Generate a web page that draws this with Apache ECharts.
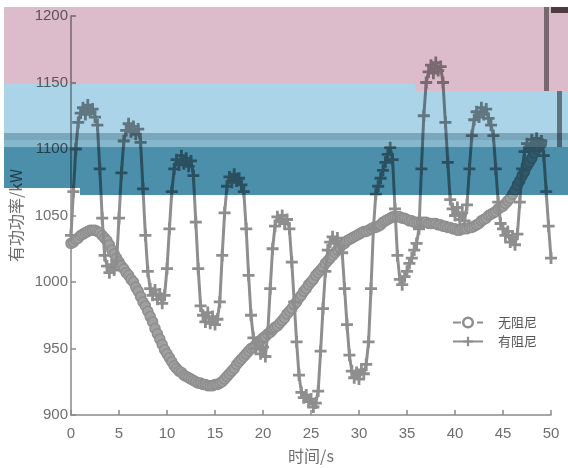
<!DOCTYPE html>
<html>
<head>
<meta charset="utf-8">
<script src="https://cdn.jsdelivr.net/npm/echarts@6/dist/echarts.min.js"></script>
<style>
  html, body { margin: 0; padding: 0; background: #ffffff; }
  #chart { width: 568px; height: 468px; }
</style>
</head>
<body>
<div id="chart"></div>
<script>
// Active power response (kW) sampled every 0.25 s
const sampleStep = 0.25;

// 无阻尼 : t = 0 ... 49 s
const undampedPower = [
  1029, 1030, 1032, 1033, 1035, 1036, 1037, 1038,
  1039, 1039, 1039, 1038, 1037, 1035, 1033, 1031,
  1028, 1024, 1021, 1018, 1015, 1012, 1010, 1007,
  1005, 1002, 1000, 996, 993, 989, 985, 982,
  978, 974, 970, 965, 961, 957, 953, 949,
  946, 943, 940, 937, 935, 933, 932, 930,
  929, 928, 927, 926, 925, 924, 924, 923,
  923, 922, 922, 922, 923, 923, 924, 925,
  927, 929, 931, 933, 935, 938, 940, 942,
  944, 946, 948, 950, 951, 953, 955, 956,
  958, 959, 961, 962, 964, 966, 967, 969,
  971, 973, 976, 978, 980, 983, 985, 988,
  990, 993, 995, 998, 1000, 1002, 1005, 1007,
  1009, 1011, 1014, 1016, 1018, 1020, 1022, 1024,
  1026, 1028, 1029, 1031, 1032, 1033, 1034, 1035,
  1036, 1037, 1038, 1038, 1039, 1040, 1041, 1041,
  1042, 1043, 1045, 1046, 1047, 1048, 1049, 1049,
  1049, 1049, 1048, 1048, 1047, 1046, 1046, 1045,
  1045, 1045, 1045, 1045, 1045, 1044, 1044, 1044,
  1044, 1043, 1043, 1042, 1042, 1041, 1041, 1040,
  1040, 1039, 1039, 1040, 1040, 1040, 1041, 1041,
  1042, 1043, 1044, 1046, 1047, 1048, 1050, 1051,
  1052, 1053, 1055, 1056, 1057, 1059, 1061, 1063,
  1066, 1069, 1073, 1076, 1080, 1083, 1087, 1090,
  1093, 1097, 1100, 1102, 1104
];

// 有阻尼 : t = 0 ... 50 s
const dampedPower = [
  1035, 1068, 1100, 1120, 1127, 1131, 1126, 1133,
  1128, 1130, 1124, 1118, 1085, 1048, 1020, 1012,
  1007, 1013, 1009, 1016, 1048, 1082, 1106, 1114,
  1119, 1113, 1117, 1111, 1115, 1105, 1070, 1035,
  1008, 995, 990, 994, 987, 991, 984, 990,
  1010, 1040, 1068, 1085, 1092, 1088, 1095, 1089,
  1093, 1087, 1091, 1080, 1045, 1010, 982, 975,
  970, 977, 969, 974, 968, 972, 985, 1020,
  1052, 1072, 1079, 1075, 1081, 1076, 1078, 1073,
  1068, 1040, 1005, 975, 958, 950, 955, 946,
  951, 944, 962, 995, 1025, 1042, 1049, 1046,
  1050, 1044, 1047, 1040, 1015, 985, 955, 930,
  917, 913, 915, 910, 912, 906, 909, 918,
  948, 980, 1008, 1024, 1030, 1034, 1029, 1033,
  1027, 1022, 995, 968, 945, 933, 928, 932,
  927, 934, 931, 938, 955, 995, 1040, 1066,
  1072, 1078, 1084, 1090, 1096, 1101, 1092, 1055,
  1020, 1002, 998, 1004, 1008, 1014, 1018, 1024,
  1029, 1040, 1085, 1125, 1150, 1158, 1163, 1157,
  1165, 1159, 1162, 1150, 1120, 1090, 1062, 1055,
  1050, 1056, 1047, 1052, 1046, 1058, 1085, 1110,
  1122, 1128, 1124, 1131, 1126, 1130, 1123, 1118,
  1110, 1085, 1060, 1044, 1040, 1035, 1038, 1030,
  1034, 1028, 1036, 1060, 1085, 1098, 1104, 1100,
  1107, 1102, 1108, 1103, 1106, 1095, 1068, 1042,
  1018
];

const seriesNames = ['无阻尼', '有阻尼'];
const xAxisTitle = '时间/s';
const yAxisTitle = '有功功率/kW';

const gray = '#8e8e8e';
const axisGray = '#8a8a8a';
const labelGray = '#6e6e6e';
const plusPath = 'path://M0,4.6H4.6V0H7.4V4.6H12V7.4H7.4V12H4.6V7.4H0Z';

const toPairs = arr => arr.map((v, i) => [i * sampleStep, v]);

// translucent colour bands laid over the plot
const bands = [
  { x: 4, y: 7, w: 564, h: 77, fill: '#dcbcca' },
  { x: 415, y: 84, w: 153, h: 7, fill: '#dcbcca' },
  { x: 4, y: 84, w: 411, h: 49, fill: '#acd4e8' },
  { x: 415, y: 91, w: 153, h: 42, fill: '#acd4e8' },
  { x: 4, y: 133, w: 564, h: 7, fill: '#7aa7bc' },
  { x: 4, y: 140, w: 564, h: 7, fill: '#86b8cd' },
  { x: 4, y: 147, w: 76, h: 41, fill: '#4b8fab' },
  { x: 80, y: 147, w: 488, h: 48, fill: '#4b8fab' },
  { x: 544, y: 7, w: 5, h: 84, fill: '#8c8c8c' },
  { x: 551, y: 7, w: 17, h: 6, fill: '#5a5050' },
  { x: 557, y: 91, w: 5, h: 56, fill: '#8c8c8c' }
];

const chart = echarts.init(document.getElementById('chart'), null, { renderer: 'canvas' });

chart.setOption({
  animation: false,
  backgroundColor: '#ffffff',
  textStyle: { fontFamily: '"Liberation Sans", "Noto Sans CJK SC", sans-serif' },
  grid: { left: 71, right: 17, top: 16, bottom: 53, containLabel: false, outerBoundsMode: 'none' },
  legend: {
    orient: 'vertical',
    left: 447,
    top: 311,
    itemWidth: 30,
    itemHeight: 12,
    itemGap: 6,
    textStyle: { fontSize: 13, color: '#555555', fontFamily: '"Noto Sans CJK SC", sans-serif', padding: [0, 0, 0, 10] },
    data: [
      { name: seriesNames[0], itemStyle: { color: '#ffffff', borderColor: gray, borderWidth: 2.5 } },
      { name: seriesNames[1] }
    ]
  },
  xAxis: {
    type: 'value',
    min: 0, max: 50, interval: 5,
    name: xAxisTitle,
    nameLocation: 'middle',
    nameGap: 33,
    nameTextStyle: { fontSize: 16, color: labelGray, fontFamily: '"Noto Sans CJK SC", sans-serif' },
    axisLine: { lineStyle: { color: axisGray, width: 1.5 } },
    axisTick: { inside: true, length: 5, lineStyle: { color: axisGray, width: 1.5 } },
    axisLabel: { fontSize: 15, color: labelGray, margin: 11 },
    splitLine: { show: false }
  },
  yAxis: {
    type: 'value',
    min: 900, max: 1200, interval: 50,
    name: yAxisTitle,
    nameLocation: 'middle',
    nameRotate: 90,
    nameGap: 43,
    nameTextStyle: { fontSize: 16, color: labelGray, fontFamily: '"Noto Sans CJK SC", sans-serif' },
    axisLine: { show: true, lineStyle: { color: axisGray, width: 1.5 } },
    axisTick: { show: true, inside: true, length: 5, lineStyle: { color: axisGray, width: 1.5 } },
    axisLabel: { fontSize: 15, color: labelGray, margin: 3, formatter: v => String(v) },
    splitLine: { show: false }
  },
  series: [
    {
      name: seriesNames[0],
      type: 'line',
      data: toPairs(undampedPower),
      symbol: 'circle',
      symbolSize: 10,
      showAllSymbol: true,
      lineStyle: { color: gray, width: 2.5, type: 'dashed' },
      itemStyle: { color: '#a0a0a0', borderColor: gray, borderWidth: 1.5 },
      z: 2
    },
    {
      name: seriesNames[1],
      type: 'line',
      data: toPairs(dampedPower),
      symbol: plusPath,
      symbolSize: 12,
      showAllSymbol: true,
      lineStyle: { color: gray, width: 3 },
      itemStyle: { color: gray },
      z: 3
    }
  ],
  graphic: {
    elements: bands.map(b => ({
      type: 'rect',
      silent: true,
      z: 100,
      shape: { x: b.x, y: b.y, width: b.w, height: b.h },
      style: { fill: b.fill, blend: 'multiply' }
    }))
  }
});
</script>
</body>
</html>
